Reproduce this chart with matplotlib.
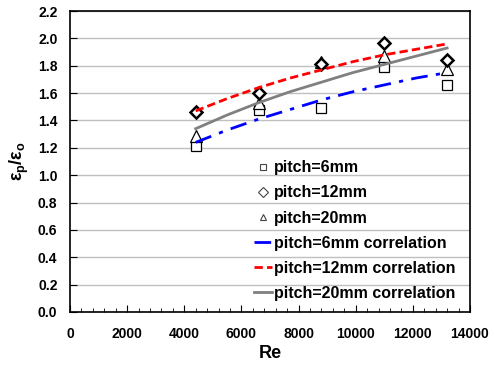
import matplotlib
matplotlib.use("Agg")
import matplotlib.pyplot as plt
from matplotlib.ticker import MultipleLocator, FormatStrFormatter

plt.rcParams["font.family"] = ["Liberation Sans", "DejaVu Sans"]
plt.rcParams["font.weight"] = "bold"
plt.rcParams["mathtext.fontset"] = "custom"
plt.rcParams["mathtext.rm"] = "Liberation Sans:bold"
plt.rcParams["mathtext.bf"] = "Liberation Sans:bold"

# measured points
re_data = [4400, 6600, 8800, 11000, 13200]
ratio_6mm = [1.21, 1.48, 1.49, 1.79, 1.66]
ratio_12mm = [1.46, 1.60, 1.81, 1.97, 1.84]
ratio_20mm = [1.29, 1.53, 1.83, 1.87, 1.78]

# correlation curves
re_fit = [4400, 5500, 6600, 7700, 8800, 9900, 11000, 12100, 13200]
fit_6mm = [1.24, 1.33, 1.41, 1.48, 1.55, 1.61, 1.66, 1.71, 1.75]
fit_12mm = [1.47, 1.56, 1.64, 1.71, 1.77, 1.83, 1.88, 1.92, 1.96]
fit_20mm = [1.34, 1.44, 1.53, 1.61, 1.68, 1.75, 1.81, 1.87, 1.93]

fig = plt.figure(figsize=(4.95, 3.7), dpi=100)
ax = fig.add_axes([0.1414, 0.157, 0.808, 0.813])

ax.grid(axis="y", color="#c0c0c0", linewidth=1.0, zorder=0)
ax.set_axisbelow(True)

ax.plot(re_data, ratio_6mm, linestyle="none", marker="s", markersize=7,
        markerfacecolor="white", markeredgecolor="black", markeredgewidth=0.9,
        label="pitch=6mm", zorder=3)
ax.plot(re_data, ratio_12mm, linestyle="none", marker="D", markersize=6,
        markerfacecolor="white", markeredgecolor="black", markeredgewidth=1.8,
        label="pitch=12mm", zorder=4)
ax.plot(re_data, ratio_20mm, linestyle="none", marker="^", markersize=8,
        markerfacecolor="white", markeredgecolor="black", markeredgewidth=0.9,
        label="pitch=20mm", zorder=3)

ax.plot(re_fit, fit_6mm, color="#0000ff", linewidth=2, dashes=(6, 3, 1.5, 3),
        label="pitch=6mm correlation", zorder=5)
ax.plot(re_fit, fit_12mm, color="#ff0000", linewidth=2, dashes=(3, 1.5),
        label="pitch=12mm correlation", zorder=5)
ax.plot(re_fit, fit_20mm, color="#808080", linewidth=2,
        label="pitch=20mm correlation", zorder=5)

ax.set_xlim(0, 14000)
ax.set_ylim(0, 2.2)
ax.xaxis.set_major_locator(MultipleLocator(2000))
ax.xaxis.set_minor_locator(MultipleLocator(400))
ax.yaxis.set_major_locator(MultipleLocator(0.2))
ax.yaxis.set_major_formatter(FormatStrFormatter("%.1f"))
ax.tick_params(axis="both", which="major", direction="in", length=5,
               labelsize=10)
ax.tick_params(axis="x", which="major", pad=11)
ax.tick_params(axis="y", which="major", pad=9)
ax.tick_params(axis="x", which="minor", direction="in", length=3)
ax.tick_params(top=False, right=False)
for side in ax.spines.values():
    side.set_linewidth(1.2)

ax.set_xlabel("Re", fontsize=13, fontweight="bold", labelpad=3)
ax.set_ylabel(r"ε$_{\mathrm{p}}$/ε$_{\mathrm{o}}$", fontsize=13,
              fontweight="bold", labelpad=5)

leg = ax.legend(loc="lower left", bbox_to_anchor=(0.432, 0.0), frameon=False,
                fontsize=11.5, handlelength=1.12, handletextpad=0.12,
                labelspacing=0.63, borderaxespad=0.3)
for h in leg.legend_handles[:3]:
    h.set_markersize(5)
    h.set_markeredgewidth(0.8)
    h.set_markeredgecolor("#444444")

fig.savefig("out.png", dpi=100)
